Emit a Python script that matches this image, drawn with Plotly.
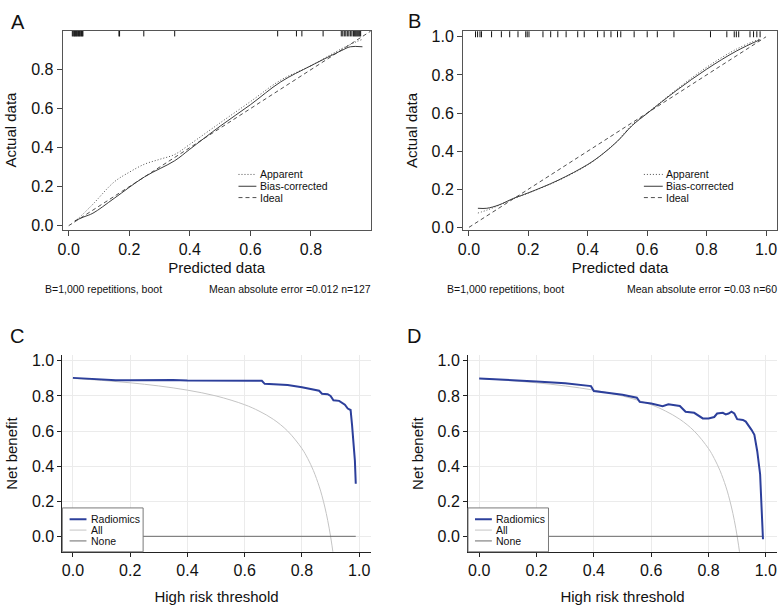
import plotly.graph_objects as go

W, H = 781, 609
FONT = "Liberation Sans, Arial, Helvetica, sans-serif"

# ---------------- Panel A: calibration (training) ----------------
a_pred_app = [0.02, 0.05, 0.08, 0.15, 0.20, 0.25, 0.30, 0.35, 0.40, 0.50, 0.60, 0.70, 0.80, 0.90, 0.95, 0.97]
a_apparent = [0.02, 0.064, 0.11, 0.224, 0.274, 0.315, 0.34, 0.365, 0.417, 0.527, 0.636, 0.746, 0.82, 0.906, 0.943, 0.955]
a_pred_bc = [0.02, 0.05, 0.08, 0.15, 0.25, 0.35, 0.40, 0.50, 0.60, 0.70, 0.80, 0.90, 0.93, 0.97]
a_biascorr = [0.025, 0.045, 0.064, 0.14, 0.25, 0.333, 0.392, 0.51, 0.62, 0.737, 0.82, 0.897, 0.917, 0.917]
a_rug = [0.012, 0.015, 0.018, 0.02, 0.022, 0.025, 0.027, 0.03, 0.032, 0.035, 0.037, 0.04, 0.042,
         0.045, 0.047, 0.166, 0.168, 0.248, 0.35, 0.69, 0.752, 0.77, 0.84, 0.90, 0.905, 0.91, 0.915,
         0.92, 0.925, 0.93, 0.935, 0.94, 0.943, 0.946, 0.949, 0.952, 0.955, 0.958, 0.961, 0.964]
a_note_left = "B=1,000 repetitions, boot"
a_note_right = "Mean absolute error =0.012 n=127"

# ---------------- Panel B: calibration (validation) ----------------
b_pred = [0.03, 0.06, 0.10, 0.15, 0.20, 0.30, 0.40, 0.45, 0.50, 0.55, 0.60, 0.70, 0.80, 0.90, 0.98]
b_apparent = [0.075, 0.09, 0.115, 0.15, 0.18, 0.245, 0.328, 0.385, 0.455, 0.54, 0.60, 0.725, 0.84, 0.935, 0.99]
b_biascorr = [0.10, 0.10, 0.117, 0.152, 0.181, 0.247, 0.33, 0.385, 0.452, 0.535, 0.598, 0.72, 0.83, 0.925, 0.985]
b_rug = [0.022, 0.029, 0.037, 0.042, 0.076, 0.109, 0.137, 0.165, 0.191, 0.196, 0.202, 0.249, 0.275,
         0.299, 0.327, 0.366, 0.388, 0.433, 0.455, 0.478, 0.5, 0.511, 0.556, 0.6, 0.634, 0.69, 0.813,
         0.868, 0.893, 0.9, 0.908, 0.946, 0.958, 0.969, 0.98]
b_note_left = "B=1,000 repetitions, boot"
b_note_right = "Mean absolute error =0.03 n=60"

ideal = [0.0, 1.0]

# ---------------- Panels C / D: decision curves ----------------
thr_all = [0.0, 0.1, 0.2, 0.3, 0.4, 0.5, 0.6, 0.65, 0.7, 0.75, 0.8, 0.82, 0.84, 0.86, 0.87, 0.88, 0.89, 0.9, 0.91, 0.92]
nb_all = [0.9, 0.889, 0.875, 0.857, 0.833, 0.8, 0.75, 0.714, 0.667, 0.6, 0.5, 0.444, 0.375, 0.286, 0.231, 0.167, 0.091, 0.0, -0.111, -0.25]

c_thr = [0.0, 0.05, 0.1, 0.15, 0.2, 0.25, 0.3, 0.35, 0.4, 0.45, 0.5, 0.55, 0.6, 0.65, 0.66, 0.67, 0.7,
         0.75, 0.8, 0.84, 0.86, 0.87, 0.89, 0.9, 0.91, 0.93, 0.95, 0.96, 0.97, 0.975, 0.98, 0.985, 0.988]
c_radiomics = [0.903, 0.897, 0.893, 0.889, 0.889, 0.891, 0.893, 0.891, 0.888, 0.887, 0.886, 0.884, 0.884,
               0.886, 0.886, 0.869, 0.868, 0.863, 0.85, 0.838, 0.83, 0.813, 0.81, 0.8, 0.775, 0.772,
               0.75, 0.728, 0.72, 0.635, 0.54, 0.43, 0.30]
c_none_thr = [0.0, 0.988]

d_thr = [0.0, 0.1, 0.2, 0.3, 0.35, 0.39, 0.4, 0.45, 0.5, 0.55, 0.56, 0.6, 0.64, 0.66, 0.7, 0.72, 0.75,
         0.78, 0.8, 0.82, 0.83, 0.85, 0.86, 0.87, 0.88, 0.89, 0.9, 0.92, 0.93, 0.95, 0.96, 0.97, 0.98, 0.985, 0.99]
d_radiomics = [0.9, 0.893, 0.882, 0.873, 0.865, 0.856, 0.828, 0.818, 0.807, 0.79, 0.766, 0.757, 0.742,
               0.753, 0.743, 0.71, 0.704, 0.672, 0.672, 0.68, 0.70, 0.704, 0.695, 0.70, 0.71, 0.70,
               0.668, 0.663, 0.654, 0.607, 0.579, 0.485, 0.354, 0.167, -0.017]
d_none_thr = [0.0, 0.99]

x_ticks = [0.0, 0.2, 0.4, 0.6, 0.8, 1.0]
y_ticks = [0.0, 0.2, 0.4, 0.6, 0.8, 1.0]
tick_text = ["0.0", "0.2", "0.4", "0.6", "0.8", "1.0"]

BLUE = "#2c3f9b"
GRAY_ALL = "#c4c4c4"
GRAY_NONE = "#6a6a6a"
CAL = "#505050"
DOT = "1px,2px"
DASH = "4px,3px"


def px(x):
    return x / W


def py(y):
    return 1 - y / H


fig = go.Figure()

rug_marker = dict(symbol="line-ns-open", size=5, color="#111", line=dict(color="#111", width=1))

# Panel A traces
fig.add_trace(go.Scatter(x=ideal, y=ideal, mode="lines", name="Ideal", xaxis="x", yaxis="y",
                         line=dict(color=CAL, width=1, dash=DASH)))
fig.add_trace(go.Scatter(x=a_pred_app, y=a_apparent, mode="lines", name="Apparent", xaxis="x", yaxis="y",
                         line=dict(color=CAL, width=1, dash=DOT, shape="spline")))
fig.add_trace(go.Scatter(x=a_pred_bc, y=a_biascorr, mode="lines", name="Bias-corrected", xaxis="x", yaxis="y",
                         line=dict(color="#3a3a3a", width=1, shape="spline")))
fig.add_trace(go.Scatter(x=a_rug, y=[0.988] * len(a_rug), mode="markers", name="rug", xaxis="x", yaxis="y",
                         marker=rug_marker, hoverinfo="x"))

# Panel B traces
fig.add_trace(go.Scatter(x=ideal, y=ideal, mode="lines", name="Ideal", xaxis="x2", yaxis="y2",
                         line=dict(color=CAL, width=1, dash=DASH)))
fig.add_trace(go.Scatter(x=b_pred, y=b_apparent, mode="lines", name="Apparent", xaxis="x2", yaxis="y2",
                         line=dict(color=CAL, width=1, dash=DOT, shape="spline")))
fig.add_trace(go.Scatter(x=b_pred, y=b_biascorr, mode="lines", name="Bias-corrected", xaxis="x2", yaxis="y2",
                         line=dict(color="#3a3a3a", width=1, shape="spline")))
fig.add_trace(go.Scatter(x=b_rug, y=[1.016] * len(b_rug), mode="markers", name="rug", xaxis="x2", yaxis="y2",
                         marker=rug_marker, hoverinfo="x"))

# Panel C traces
fig.add_trace(go.Scatter(x=thr_all, y=nb_all, mode="lines", name="All", xaxis="x3", yaxis="y3",
                         line=dict(color=GRAY_ALL, width=1, shape="spline")))
fig.add_trace(go.Scatter(x=c_none_thr, y=[0, 0], mode="lines", name="None", xaxis="x3", yaxis="y3",
                         line=dict(color=GRAY_NONE, width=1)))
fig.add_trace(go.Scatter(x=c_thr, y=c_radiomics, mode="lines", name="Radiomics", xaxis="x3", yaxis="y3",
                         line=dict(color=BLUE, width=2)))

# Panel D traces
fig.add_trace(go.Scatter(x=thr_all, y=nb_all, mode="lines", name="All", xaxis="x4", yaxis="y4",
                         line=dict(color=GRAY_ALL, width=1, shape="spline")))
fig.add_trace(go.Scatter(x=d_none_thr, y=[0, 0], mode="lines", name="None", xaxis="x4", yaxis="y4",
                         line=dict(color=GRAY_NONE, width=1)))
fig.add_trace(go.Scatter(x=d_thr, y=d_radiomics, mode="lines", name="Radiomics", xaxis="x4", yaxis="y4",
                         line=dict(color=BLUE, width=2)))

tickfont = dict(family=FONT, size=16, color="#111")
titlefont = dict(family=FONT, size=15, color="#111")


def cal_axis(domain, rng, title, anchor, ticks, standoff):
    return dict(domain=domain, range=rng, showline=True, mirror=True, linecolor="#555", linewidth=1,
                ticks="outside", ticklen=5, tickcolor="#444", tickwidth=1, showgrid=False, zeroline=False,
                tickvals=ticks, ticktext=["%.1f" % t for t in ticks], tickfont=tickfont,
                title=dict(text=title, font=titlefont, standoff=standoff), anchor=anchor)


def dca_axis(domain, rng, title, anchor, standoff):
    return dict(domain=domain, range=rng, showline=True, mirror=False, linecolor="#222", linewidth=1,
                ticks="outside", ticklen=4, tickcolor="#222", tickwidth=1, showgrid=True,
                gridcolor="#ebebeb", gridwidth=1, zeroline=False,
                tickvals=x_ticks, ticktext=tick_text, tickfont=tickfont,
                title=dict(text=title, font=titlefont, standoff=standoff), anchor=anchor)


fig.update_layout(
    width=W, height=H, margin=dict(l=0, r=0, t=0, b=0),
    paper_bgcolor="white", plot_bgcolor="white",
    font=dict(family=FONT, color="#111"),
    showlegend=False,
    xaxis=cal_axis([px(58), px(368)], [-0.02, 0.997], "Predicted data", "y", [0.0, 0.2, 0.4, 0.6, 0.8], 5),
    yaxis=cal_axis([py(230), py(28)], [-0.02, 1.0], "Actual data", "x", [0.0, 0.2, 0.4, 0.6, 0.8], 10),
    xaxis2=cal_axis([px(461), px(777)], [-0.02, 1.037], "Predicted data", "y2", x_ticks, 5),
    yaxis2=cal_axis([py(230), py(28.7)], [-0.012, 1.029], "Actual data", "x2", y_ticks, 10),
    xaxis3=dca_axis([px(57.7), px(368)], [-0.037, 1.04], "High risk threshold", "y3", 13),
    yaxis3=dca_axis([py(557), py(357.7)], [-0.088, 1.031], "Net benefit", "x3", 10),
    xaxis4=dca_axis([px(466), px(777)], [-0.039, 1.039], "High risk threshold", "y4", 13),
    yaxis4=dca_axis([py(557), py(357.7)], [-0.088, 1.031], "Net benefit", "x4", 10),
)

shapes = []
annotations = []


def text(x, y, s, size, xanchor="left", yanchor="middle"):
    annotations.append(dict(x=px(x), y=py(y), xref="paper", yref="paper", text=s, showarrow=False,
                            xanchor=xanchor, yanchor=yanchor,
                            font=dict(family=FONT, size=size, color="#111")))


def seg(x0, x1, y, color, width, dash="solid"):
    shapes.append(dict(type="line", xref="paper", yref="paper", x0=px(x0), x1=px(x1), y0=py(y), y1=py(y),
                       line=dict(color=color, width=width, dash=dash), layer="above"))


# Panel letters
text(4, 19, "A", 20)
text(404, 18, "B", 20)
text(3, 338, "C", 20)
text(403, 338, "D", 20)

# Notes under calibration plots
text(38, 290, a_note_left, 10.5)
text(370, 290, a_note_right, 10.5, xanchor="right")
text(443, 290, b_note_left, 10.5)
text(779, 290, b_note_right, 10.5, xanchor="right")

# Calibration legends (A and B)
for lx0, lx1, tx in [(235, 253, 254.5), (643, 662, 663.5)]:
    for yy, lab, dash, col in [(174, "Apparent", DOT, CAL), (186, "Bias-corrected", "solid", "#3a3a3a"),
                               (197.5, "Ideal", DASH, CAL)]:
        seg(lx0, lx1, yy, col, 1, dash)
        text(tx, yy, lab, 10.5)

# DCA legends (C and D)
for bx0, bx1, lx0, lx1, tx in [(57.7, 139, 65, 82, 85), (466, 547, 473, 490, 492)]:
    shapes.append(dict(type="rect", xref="paper", yref="paper", x0=px(bx0), x1=px(bx1), y0=py(557), y1=py(512.5),
                       line=dict(color="#7a7a7a", width=1), fillcolor="white", layer="above"))
    for yy, lab, col, wd in [(524, "Radiomics", BLUE, 2), (535, "All", GRAY_ALL, 1), (546, "None", GRAY_NONE, 1)]:
        seg(lx0, lx1, yy, col, wd)
        text(tx, yy, lab, 10.5)

fig.update_layout(shapes=shapes, annotations=annotations)

# Remove the browser's default 8px body margin so the 781x609 figure fills the window exactly.
fig.write_html("out.html", config={"displayModeBar": False},
               post_script="document.body.style.margin='0';document.body.style.overflow='hidden';")
